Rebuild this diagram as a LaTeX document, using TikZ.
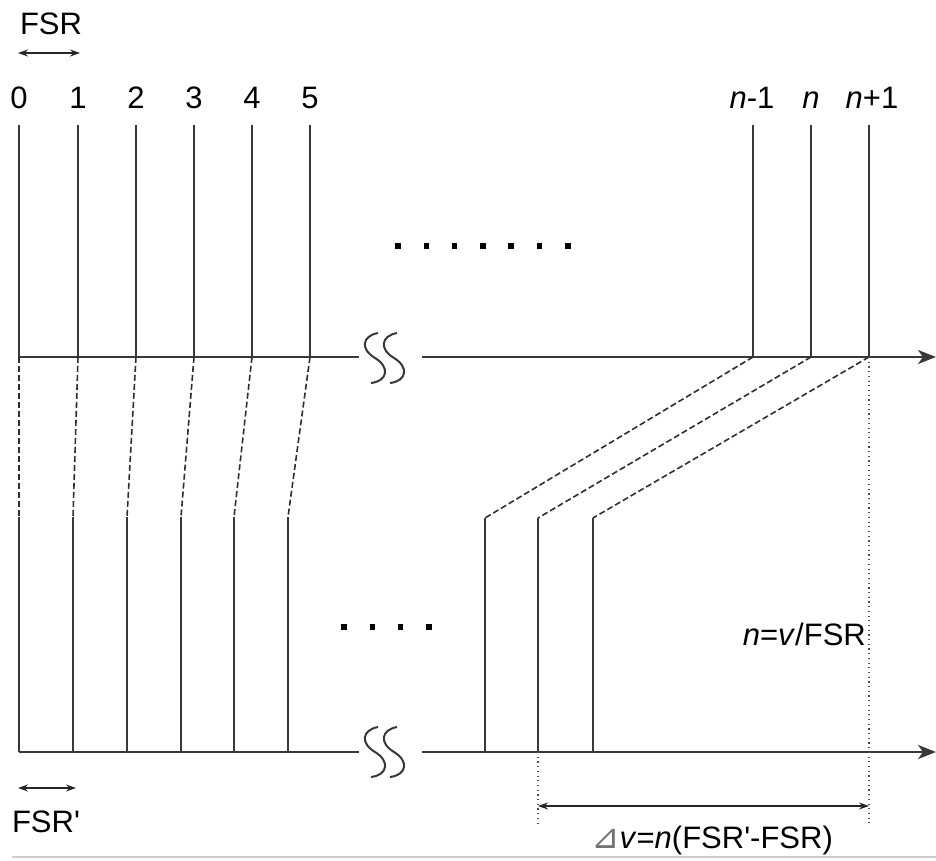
\documentclass[tikz,border=0pt]{standalone}
\usepackage{fontspec}
\setmainfont{Liberation Sans}
\newfontfamily\labelfont{Liberation Sans}
\newfontfamily\symfont{DejaVu Sans}
\usetikzlibrary{arrows.meta}

\begin{document}
\begin{tikzpicture}[x=1pt,y=-1pt,
  line/.style={draw=black!78, line width=2pt},
  axis/.style={line, -{Stealth[length=18pt,width=14pt,inset=5pt]}},
  link/.style={draw=black!82, line width=1.6pt, dash pattern=on 6pt off 3pt},
  guide/.style={draw=black!70, line width=1.3pt, dash pattern=on 1.2pt off 3.5pt},
  span/.style={draw=black!85, line width=1.3pt,
    {Stealth[length=10pt,width=7pt]}-{Stealth[length=10pt,width=7pt]}},
  lbl/.style={font=\labelfont\fontsize{31}{37}\selectfont, inner sep=0pt, anchor=base},
  dot/.style={fill=black, minimum size=5.5pt, inner sep=0pt},
  breakmark/.style={draw=black!78, line width=2pt},
  rule/.style={draw=black!20, line width=1.5pt},
]
\useasboundingbox (0,0) rectangle (936,861);

% ---- upper comb -------------------------------------------------------
\coordinate (ua0) at (19,357);
\coordinate (ua1) at (359,357);
\coordinate (ua2) at (422,357);
\coordinate (ua3) at (936,357);
\draw[line] (ua0) -- (ua1);
\draw[axis] (ua2) -- (ua3);

\foreach \i/\x in {0/19,1/78,2/136,3/194,4/252,5/310}{
  \coordinate (top\i) at (\x,125);
  \coordinate (base\i) at (\x,357);
  \draw[line] (top\i) -- (base\i);
  \node[lbl] (num\i) at (\x,109) {\i};
}
\foreach \i/\x in {m/753, c/811, p/869}{
  \coordinate (top\i) at (\x,125);
  \coordinate (base\i) at (\x,357);
  \draw[line] (top\i) -- (base\i);
}
\node[lbl] (numm) at (752,109) {\textit{n}-1};
\node[lbl] (numc) at (811,109) {\textit{n}};
\node[lbl] (nump) at (872,109) {\textit{n}+1};

% spacing of the upper comb
\node[lbl] (fsr) at (51,35) {FSR};
\coordinate (fsrL) at (18,53);
\coordinate (fsrR) at (80,53);
\draw[span] (fsrL) -- (fsrR);

% ellipsis between the two groups
\foreach \k in {0,...,6}{
  \node[dot] (dotT\k) at ({398+28.3*\k},246) {};
}

% ---- lower comb -------------------------------------------------------
\coordinate (la0) at (19,752);
\coordinate (la1) at (359,752);
\coordinate (la2) at (422,752);
\coordinate (la3) at (936,752);
\draw[line] (la0) -- (la1);
\draw[axis] (la2) -- (la3);

\foreach \i/\x in {0/19,1/73,2/127,3/181,4/234,5/288}{
  \coordinate (bend\i) at (\x,517);
  \coordinate (foot\i) at (\x,752);
  \draw[line] (bend\i) -- (foot\i);
  \draw[link] (base\i) -- (bend\i);
}
\foreach \i/\x in {m/485,c/538,p/593}{
  \coordinate (bend\i) at (\x,518);
  \coordinate (foot\i) at (\x,752);
  \draw[line] (bend\i) -- (foot\i);
  \draw[link] (base\i) -- (bend\i);
}

\foreach \k in {0,...,3}{
  \node[dot] (dotB\k) at ({344+28.3*\k},627) {};
}

% spacing of the lower comb
\coordinate (fsrpL) at (18,788);
\coordinate (fsrpR) at (76,788);
\draw[span] (fsrpL) -- (fsrpR);
\node[lbl] (fsrp) at (46,832) {FSR'};

% ---- axis breaks ------------------------------------------------------
\foreach \dy in {0,394}{
  \foreach \dx in {0,19}{
    \draw[breakmark]
      ({378+\dx},{333+\dy}) .. controls ({362+\dx},{336+\dy}) and ({360+\dx},{349+\dy}) ..
      ({375+\dx},{358+\dy}) .. controls ({390+\dx},{367+\dy}) and ({388+\dx},{381+\dy}) ..
      ({371+\dx},{383+\dy});
  }
}

% ---- frequency shift --------------------------------------------------
\coordinate (gTopEnd) at (869,823);
\coordinate (gBot) at (538,752);
\coordinate (gBotEnd) at (538,823);
\draw[guide] (basep) -- (gTopEnd);
\draw[guide] (gBot) -- (gBotEnd);
\coordinate (shiftL) at (538,806);
\coordinate (shiftR) at (869,806);
\draw[span] (shiftL) -- (shiftR);
\node[lbl] (shift) at (712,848)
  {{\color{black!55}\symfont\fontsize{34}{40}\selectfont ⊿}\textit{v}=\textit{n}(FSR'-FSR)};

\node[lbl, anchor=base east] (order) at (866,645) {\textit{n}=\textit{v}/FSR};

% page rule
\coordinate (ruleL) at (12,857);
\coordinate (ruleR) at (936,857);
\draw[rule] (ruleL) -- (ruleR);
\end{tikzpicture}
\end{document}
